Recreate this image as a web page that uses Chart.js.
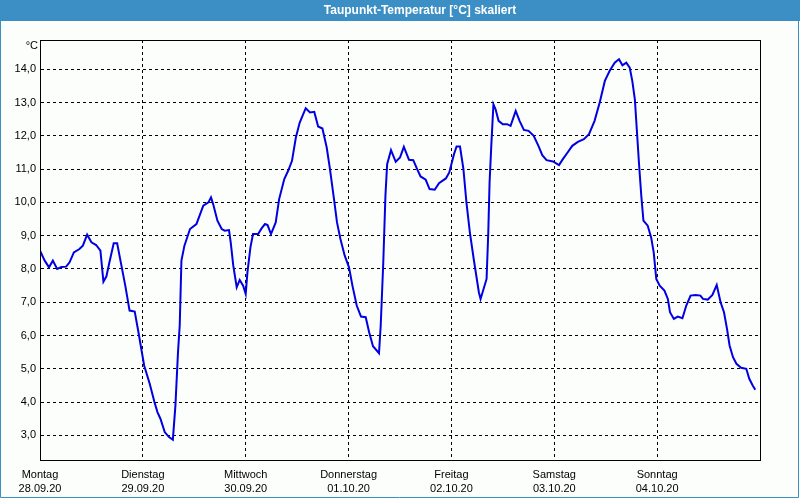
<!DOCTYPE html>
<html><head><meta charset="utf-8">
<script src="https://cdn.jsdelivr.net/npm/chart.js@4"></script>
<style>html,body{margin:0;padding:0;background:#fcfefc;}#wrap{width:800px;height:500px;position:relative;}</style>
</head><body><div id="wrap"><canvas id="c" width="800" height="500"></canvas></div>
<script>
const titleText = 'Taupunkt-Temperatur [°C] skaliert';
const unitText = '°C';
const dayHours = [0, 24, 48, 72, 96, 120, 144];
const dayNames = ['Montag', 'Dienstag', 'Mittwoch', 'Donnerstag', 'Freitag', 'Samstag', 'Sonntag'];
const dayDates = ['28.09.20', '29.09.20', '30.09.20', '01.10.20', '02.10.20', '03.10.20', '04.10.20'];
const yTicks = [3, 4, 5, 6, 7, 8, 9, 10, 11, 12, 13, 14];
const hours = [0.0,1.1,2.1,3.0,4.0,5.0,6.1,6.9,7.9,9.2,10.0,11.0,12.0,13.1,14.1,14.8,15.5,16.2,17.2,18.0,19.0,19.9,20.9,22.1,22.9,24.3,25.6,26.7,27.4,28.1,29.1,30.1,31.0,31.6,32.2,32.6,33.0,33.7,35.0,36.5,38.1,39.3,39.9,40.4,41.4,42.4,43.1,44.1,44.5,45.1,45.9,46.6,47.4,48.0,48.4,49.1,49.7,50.9,51.7,52.5,53.1,53.9,55.0,55.8,57.0,57.9,58.8,59.7,60.6,62.0,63.0,64.0,64.9,65.9,66.9,67.6,68.6,69.3,70.1,71.1,72.1,72.9,73.9,74.9,76.0,76.8,77.7,79.1,79.5,80.1,80.6,81.0,81.9,83.0,84.0,84.9,86.1,87.1,88.0,88.8,90.0,90.9,92.1,93.1,94.7,95.5,96.6,97.2,98.0,98.8,99.5,100.3,101.2,102.4,102.8,104.2,104.6,104.9,105.3,105.8,106.3,107.0,108.0,109.0,109.8,111.0,111.9,112.9,114.0,115.2,116.3,117.2,118.2,119.7,121.1,122.0,123.1,124.2,125.5,126.9,128.1,129.4,130.6,131.8,132.9,134.1,135.1,135.9,136.8,137.6,138.2,138.8,139.3,139.8,140.3,140.8,141.8,142.6,143.2,143.8,144.6,145.7,146.5,147.0,147.9,148.8,149.9,150.8,151.8,153.0,154.1,154.7,155.8,156.9,157.9,158.8,159.6,160.3,160.9,161.7,162.5,163.6,164.8,165.5,166.3,166.9];
const dewPoint = [8.55,8.25,8.05,8.25,8.0,8.06,8.07,8.2,8.5,8.6,8.7,9.03,8.8,8.72,8.55,7.62,7.78,8.2,8.77,8.77,8.1,7.5,6.75,6.72,6.15,5.1,4.55,4.0,3.7,3.5,3.1,2.95,2.87,3.9,5.5,6.3,8.25,8.7,9.2,9.35,9.9,10.0,10.15,9.95,9.45,9.2,9.15,9.17,8.8,8.1,7.45,7.67,7.5,7.25,7.9,8.65,9.05,9.05,9.22,9.35,9.32,9.05,9.4,10.1,10.7,10.95,11.25,11.95,12.4,12.83,12.7,12.72,12.28,12.22,11.65,11.05,10.1,9.4,8.9,8.4,8.05,7.5,6.9,6.57,6.55,6.1,5.68,5.47,6.3,8.2,10.2,11.15,11.57,11.22,11.35,11.67,11.28,11.27,11.0,10.78,10.68,10.4,10.38,10.58,10.72,10.9,11.45,11.68,11.68,11.0,10.0,9.1,8.3,7.3,7.1,7.7,9.1,10.6,11.7,12.95,12.8,12.45,12.35,12.35,12.3,12.75,12.45,12.18,12.15,12.0,11.7,11.42,11.27,11.23,11.12,11.3,11.5,11.7,11.82,11.9,12.05,12.45,13.0,13.65,13.95,14.2,14.3,14.12,14.2,14.05,13.65,13.1,12.1,11.1,10.2,9.45,9.3,8.95,8.5,7.7,7.5,7.35,7.1,6.7,6.5,6.57,6.52,6.9,7.2,7.22,7.2,7.1,7.08,7.22,7.52,7.0,6.7,6.2,5.7,5.35,5.15,5.03,5.0,4.7,4.5,4.37];

const frame = {
  id: 'frame',
  beforeDraw(chart) {
    const ctx = chart.ctx;
    ctx.save();
    ctx.fillStyle = '#fcfefc';
    ctx.fillRect(0, 0, 800, 500);
    ctx.fillStyle = '#3c8fc4';
    ctx.fillRect(0, 0, 800, 21);
    ctx.fillStyle = '#ffffff';
    ctx.font = 'bold 12px "Liberation Sans"';
    ctx.textAlign = 'center';
    ctx.textBaseline = 'middle';
    ctx.fillText(titleText, 420, 10.5);
    ctx.strokeStyle = '#3c8fc4';
    ctx.lineWidth = 1;
    ctx.beginPath();
    ctx.moveTo(0.5, 21); ctx.lineTo(0.5, 497.5); ctx.lineTo(798.5, 497.5); ctx.lineTo(798.5, 21);
    ctx.stroke();
    ctx.restore();
  },
  afterDraw(chart) {
    const ctx = chart.ctx;
    const a = chart.chartArea;
    ctx.save();
    ctx.strokeStyle = '#000';
    ctx.lineWidth = 1;
    ctx.setLineDash([]);
    ctx.strokeRect(Math.round(a.left) + 0.5, Math.round(a.top) + 0.5, Math.round(a.right - a.left), Math.round(a.bottom - a.top));
    ctx.fillStyle = '#000';
    ctx.font = '11px "Liberation Sans"';
    ctx.textAlign = 'right';
    ctx.textBaseline = 'middle';
    ctx.fillText(unitText, 38, 46);
    ctx.restore();
  }
};

new Chart(document.getElementById('c'), {
  type: 'line',
  data: {
    datasets: [{
      data: hours.map((h, i) => ({ x: h, y: dewPoint[i] })),
      borderColor: '#0000e0',
      borderWidth: 2,
      pointRadius: 0,
      tension: 0,
      fill: false
    }]
  },
  options: {
    responsive: false,
    animation: false,
    devicePixelRatio: 1,
    layout: { padding: { top: 40, right: 40, left: 0, bottom: 0 } },
    plugins: { legend: { display: false }, tooltip: { enabled: false }, title: { display: false } },
    scales: {
      x: {
        type: 'linear', min: 0, max: 168,
        afterBuildTicks: s => { s.ticks = dayHours.map(v => ({ value: v })); },
        afterFit: s => { s.height = 40; },
        grid: { color: '#000', lineWidth: 1, drawTicks: false },
        border: { display: true, color: '#000', width: 1, dash: [3, 3] },
        ticks: {
          autoSkip: false, maxRotation: 0, minRotation: 0, padding: 8, color: '#000',
          font: { family: 'Liberation Sans', size: 11, lineHeight: 1.27 },
          callback: (v, i) => [dayNames[i], dayDates[i]]
        }
      },
      y: {
        type: 'linear', min: 2.26, max: 14.88,
        afterBuildTicks: s => { s.ticks = yTicks.map(v => ({ value: v })); },
        afterFit: s => { s.width = 40; },
        grid: { color: '#000', lineWidth: 1, drawTicks: false },
        border: { display: true, color: '#000', width: 1, dash: [3, 3] },
        ticks: {
          padding: 4, color: '#000',
          font: { family: 'Liberation Sans', size: 11 },
          callback: v => v.toFixed(1).replace('.', ',')
        }
      }
    }
  },
  plugins: [frame]
});
</script>
</body></html>
